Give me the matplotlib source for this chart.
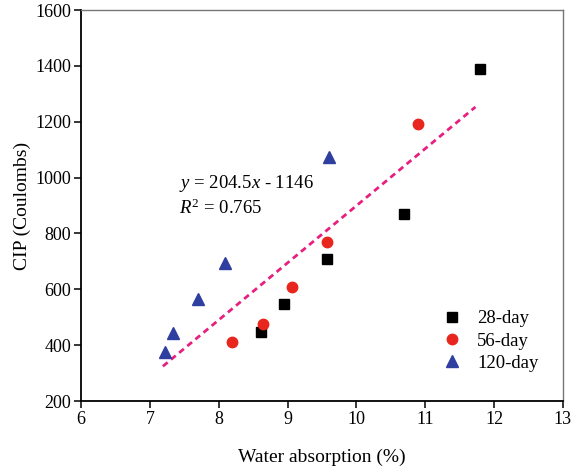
import matplotlib
matplotlib.use("Agg")
import matplotlib.pyplot as plt
import numpy as np

plt.rcParams['font.family'] = ['Liberation Serif', 'DejaVu Serif']
plt.rcParams['mathtext.fontset'] = 'custom'
plt.rcParams['mathtext.rm'] = 'Liberation Serif'
plt.rcParams['mathtext.it'] = 'Liberation Serif:italic'

# Data
x28 = [8.62, 8.95, 9.58, 10.69, 11.79]
y28 = [447, 546, 708, 871, 1387]
x56 = [8.20, 8.64, 9.07, 9.57, 10.90]
y56 = [411, 475, 609, 768, 1193]
x120 = [7.22, 7.33, 7.70, 8.09, 9.61]
y120 = [376, 444, 566, 695, 1072]
slope, intercept = 204.5, -1146
fit_range = [7.19, 11.73]

fig = plt.figure(figsize=(5.72, 4.70), dpi=100)
ax = fig.add_axes([0.1416, 0.1468, 0.8424, 0.8319])

xf = np.linspace(fit_range[0], fit_range[1], 50)
ax.plot(xf, slope * xf + intercept, linestyle=(0, (2.2, 1.6)), color='#e6207f', lw=2.0, zorder=2)

ax.plot(x28, y28, 's', color='black', markersize=6.5, linestyle='none', label='28-day', zorder=3)
ax.plot(x56, y56, 'o', color='#e8261e', markersize=7.5, linestyle='none', label='56-day', zorder=3)
ax.plot(x120, y120, '^', color='#2f3f9f', markersize=8, linestyle='none', label='120-day', zorder=3)

ax.set_xlim(6, 13)
ax.set_ylim(200, 1600)
ax.set_xticks(range(6, 14))
ax.set_yticks(range(200, 1601, 200))
ax.tick_params(direction='out', length=5, width=1.1, labelsize=13, colors='black', pad=2)
for s in ['left', 'bottom']:
    ax.spines[s].set_linewidth(1.3)
    ax.spines[s].set_color('black')
for s in ['top', 'right']:
    ax.spines[s].set_linewidth(1.0)
    ax.spines[s].set_color('#777777')

ax.set_xlabel('Water absorption (%)', fontsize=14, labelpad=15)
ax.set_ylabel('CIP (Coulombs)', fontsize=14, labelpad=3)

ax.text(7.43, 980, r'$y$ = 204.5$x$ - 1146', fontsize=13.5, va='center', ha='left')
ax.text(7.43, 890, r'$R^2$ = 0.765', fontsize=13.5, va='center', ha='left')

ax.legend(loc='lower right', frameon=False, fontsize=13.5, handletextpad=0.6,
          bbox_to_anchor=(0.985, 0.031), labelspacing=0.28, handlelength=1.5)

fig.savefig('out.png', dpi=100)
